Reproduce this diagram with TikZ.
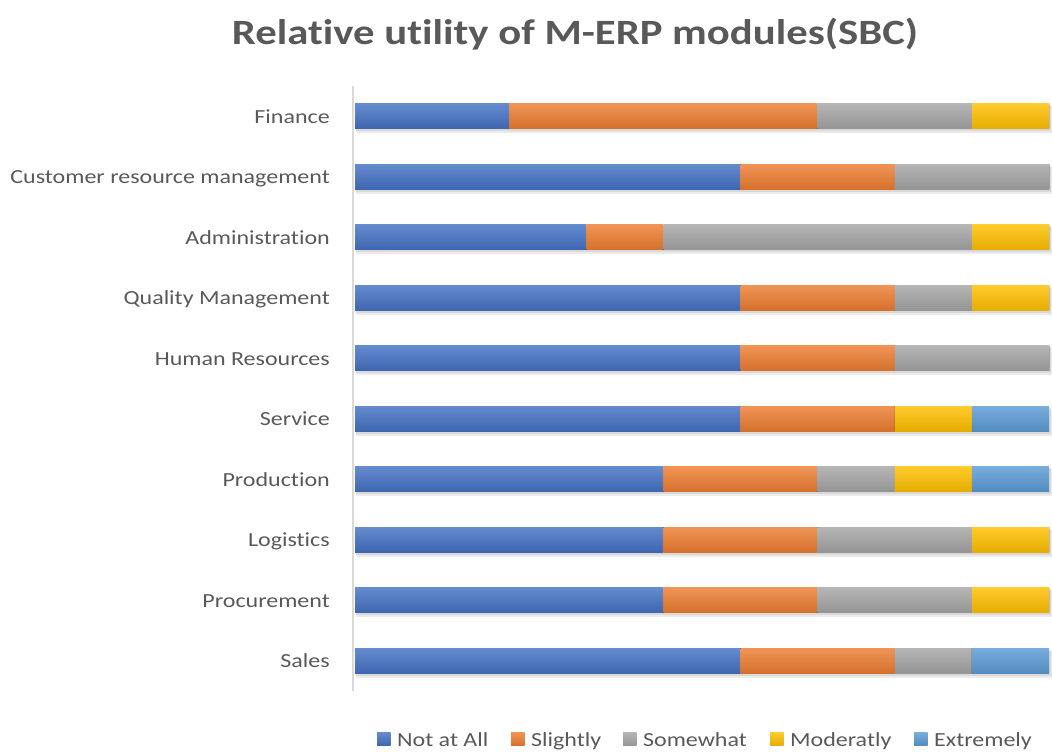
\documentclass[tikz,border=0pt]{standalone}
\usepackage{fontspec}
\setmainfont{Carlito}[FakeStretch=1.2, Ligatures=NoCommon]
\usetikzlibrary{positioning}
\definecolor{notatall}{HTML}{4472C4}
\definecolor{slightly}{HTML}{ED7D31}
\definecolor{somewhat}{HTML}{A5A5A5}
\definecolor{moderatly}{HTML}{FFC000}
\definecolor{extremely}{HTML}{5B9BD5}
\definecolor{txtgray}{HTML}{595959}
\definecolor{axisgray}{HTML}{D9D9D9}
\tikzset{
  seg/.style={top color=#1!82!white, bottom color=#1!90!black, draw=none},
  barshadow/.style={fill=black, opacity=.08, draw=none},
  catlabel/.style={anchor=base east, font=\fontsize{20}{24}\selectfont, text=txtgray, inner sep=0pt},
  legkey/.style={top color=#1!82!white, bottom color=#1!90!black, draw=none, minimum size=13.5pt, inner sep=0pt, anchor=south west},
  legtext/.style={anchor=base west, font=\fontsize{20}{24}\selectfont, text=txtgray, inner sep=0pt}
}
\begin{document}
\begin{tikzpicture}[x=1pt,y=-1pt]
        \useasboundingbox (0,0) rectangle (1052,752);
        \def\u{77.111}
        \def\xo{355}

        % title
        \node[anchor=base, font=\fontsize{35.6}{40}\selectfont\bfseries, text=txtgray, inner sep=0pt] (title) at (575,45) {Relative utility of M-ERP modules(SBC)};

        % bars: not at all, slightly, somewhat, moderatly, extremely
        \foreach \name/\a/\b/\c/\d/\e [count=\i from 0] in {Finance/2/4/2/1/0, Customer resource management/5/2/2/0/0, Administration/3/1/4/1/0, Quality Management/5/2/1/1/0, Human Resources/5/2/2/0/0, Service/5/2/0/1/1, Production/4/2/1/1/1, Logistics/4/2/2/1/0, Procurement/4/2/2/1/0, Sales/5/2/1/0/1}{
          \pgfmathsetmacro{\y}{116+60.5*\i}
          \pgfmathsetmacro{\xa}{\xo+\u*\a}
          \pgfmathsetmacro{\xb}{\xa+\u*\b}
          \pgfmathsetmacro{\xc}{\xb+\u*\c}
          \pgfmathsetmacro{\xd}{\xc+\u*\d}
          \pgfmathsetmacro{\xe}{\xd+\u*\e}
          % soft shadow
          \fill[barshadow] (\xo+1,\y-10) rectangle (\xe+4,\y+17);
          \fill[barshadow] (\xo+1,\y-11) rectangle (\xe+2,\y+15);
          \fill[seg=notatall] (\xo,\y-12.5) rectangle (\xa,\y+12.5);
          \fill[seg=slightly] (\xa,\y-12.5) rectangle (\xb,\y+12.5);
          \fill[seg=somewhat] (\xb,\y-12.5) rectangle (\xc,\y+12.5);
          \fill[seg=moderatly] (\xc,\y-12.5) rectangle (\xd,\y+12.5);
          \fill[seg=extremely] (\xd,\y-12.5) rectangle (\xe,\y+12.5);
          \node[catlabel] (cat\i) at (330,\y+7) {\name};
        }

        % category axis
        \draw[axisgray, line width=1.5pt] (353,86) -- (353,691);

        % legend
        \foreach \key/\lab/\x in {notatall/Not at All/377, slightly/Slightly/511, somewhat/Somewhat/623, moderatly/Moderatly/770, extremely/Extremely/914}{
          \node[legkey=\key] (key\key) at (\x,746) {};
          \node[legtext, right=6pt of key\key.south east, anchor=base west] (lab\key) {\lab};
        }
      \end{tikzpicture}
\end{document}
